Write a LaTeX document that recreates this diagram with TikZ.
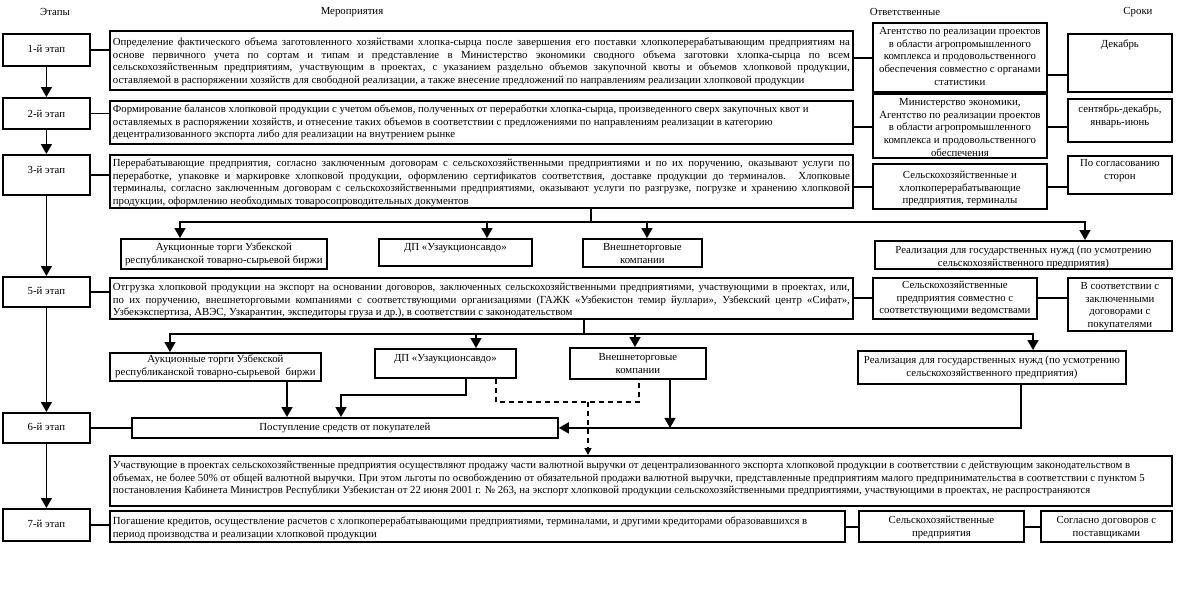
\documentclass[tikz,border=0pt]{standalone}
\usepackage{fontspec}
\setmainfont{Liberation Serif}
\usetikzlibrary{arrows.meta,calc,positioning}
\newcommand{\fs}{\fontsize{10.8}{12.6}\selectfont}
% cell: outer width, height, top gap, alignment, text
\newcommand{\bx}[5]{\parbox[c][#2][t]{\dimexpr#1-6pt\relax}{#4\tolerance=9999\hbadness=10000\vspace*{#3}\strut#5}}
\tikzset{pin/.style={line width=1.6pt, -{Triangle[length=10pt,width=11pt]}},
  wire/.style={line width=1.6pt},
  dline/.style={line width=1.5pt, dash pattern=on 5pt off 4pt},
  dpin/.style={dline, -{Triangle[length=7pt,width=7pt]}},
  blk/.style={draw, line width=1.8pt, anchor=north west, inner xsep=3pt, inner ysep=0pt, font=\fs},
  hdr/.style={font=\fs}}

\begin{document}
\begin{tikzpicture}[x=1pt, y=-1pt]
  \useasboundingbox (0,0) rectangle (1189,600);
  % headers
  \node[hdr] (hst) at (55,12) {Этапы};
  \node[hdr] (hact) at (352,12) {Мероприятия};
  \node[hdr] (hresp) at (905,12) {Ответственные};
  \node[hdr] (hterm) at (1138,12) {Сроки};
  % stages
  \node[blk] (st1) at (2,33)  {\bx{87pt}{32pt}{10pt}{\centering}{1-й этап}};
  \node[blk] (st2) at (2,97)  {\bx{87pt}{31pt}{11pt}{\centering}{2-й этап}};
  \node[blk] (st3) at (2,154) {\bx{87pt}{40pt}{10pt}{\centering}{3-й этап}};
  \node[blk] (st5) at (2,276) {\bx{87pt}{30pt}{9pt}{\centering}{5-й этап}};
  \node[blk] (st6) at (2,412) {\bx{87pt}{30pt}{9pt}{\centering}{6-й этап}};
  \node[blk] (st7) at (2,508) {\bx{87pt}{32pt}{10pt}{\centering}{7-й этап}};
  % row 1
  \node[blk] (t1) at (109,30) {\bx{743pt}{59pt}{6pt}{}{Определение фактического объема заготовленного хозяйствами хлопка-сырца после завершения его поставки хлопкоперерабатывающим предприятиям на\linebreak основе первичного учета по сортам и типам и представление в Министерство экономики сводного объема заготовки хлопка-сырца по всем\linebreak сельскохозяйственным предприятиям, участвующим в проектах, с указанием раздельно объемов закупочной квоты и объемов хлопковой продукции,\linebreak оставляемой в распоряжении хозяйств для свободной реализации, а также внесение предложений по направлениям реализации хлопковой продукции}};
  \node[blk] (r1) at (872,22) {\bx{174pt}{69pt}{3pt}{\centering}{Агентство по реализации проектов\\ в области агропромышленного\\ комплекса и продовольственного\\ обеспечения совместно с органами\\ статистики}};
  \node[blk] (d1) at (1067,33) {\bx{104pt}{58pt}{5pt}{\centering}{Декабрь}};
  % row 2
  \node[blk] (t2) at (109,100) {\bx{743pt}{43pt}{3pt}{\raggedright}{Формирование балансов хлопковой продукции  с учетом объемов, полученных от переработки хлопка-сырца, произведенного сверх закупочных квот и\\ оставляемых в распоряжении хозяйств, и отнесение таких объемов в соответствии с предложениями по направлениям реализации в категорию\\ децентрализованного экспорта либо для реализации на внутрением рынке}};
  \node[blk] (r2) at (872,93) {\bx{174pt}{64pt}{3pt}{\centering}{Министерство экономики,\\ Агентство по реализации проектов\\ в области агропромышленного\\ комплекса и продовольственного\\ обеспечения}};
  \node[blk] (d2) at (1067,98) {\bx{104pt}{43pt}{5pt}{\centering}{сентябрь-декабрь,\\ январь-июнь}};
  % row 3
  \node[blk] (t3) at (109,154) {\bx{743pt}{53pt}{3pt}{}{Перерабатывающие предприятия, согласно заключенным договорам с сельскохозяйственными предприятиями и по их поручению, оказывают услуги по\linebreak переработке, упаковке и маркировке хлопковой продукции, оформлению сертификатов соответствия, доставке продукции до терминалов. Хлопковые\linebreak терминалы, согласно заключенным договорам с сельскохозяйственными предприятиями, оказывают услуги по разгрузке, погрузке и хранению хлопковой\linebreak продукции, оформлению необходимых товаросопроводительных документов}};
  \node[blk] (r3) at (872,163) {\bx{174pt}{45pt}{6pt}{\centering}{Сельскохозяйственные и\\ хлопкоперерабатывающие\\ предприятия, терминалы}};
  \node[blk] (d3) at (1067,155) {\bx{104pt}{38pt}{2pt}{\centering}{По согласованию\\ сторон}};
  % channels after stage 3
  \node[blk] (a1) at (120,238) {\bx{206pt}{30pt}{3pt}{\centering}{Аукционные торги Узбекской\\ республиканской товарно-сырьевой биржи}};
  \node[blk] (b1) at (378,238) {\bx{153pt}{27pt}{3pt}{\centering}{ДП «Узаукционсавдо»}};
  \node[blk] (c1) at (582,238) {\bx{119pt}{28pt}{3pt}{\centering}{Внешнеторговые\\ компании}};
  \node[blk] (e1) at (874,240) {\bx{297pt}{28pt}{4pt}{\centering}{Реализация для государственных нужд (по усмотрению\\ сельскохозяйственного предприятия)}};
  % row 5
  \node[blk] (t5) at (109,277) {\bx{743pt}{41pt}{4pt}{}{Отгрузка хлопковой продукции на экспорт на основании договоров, заключенных сельскохозяйственными предприятиями, участвующими в проектах, или,\linebreak по их поручению, внешнеторговыми компаниями с соответствующими организациями (ГАЖК «Узбекистон темир йуллари», Узбекский центр «Сифат»,\linebreak Узбекэкспертиза, АВЭС, Узкарантин, экспедиторы груза и др.), в соответствии с законодательством}};
  \node[blk] (r5) at (872,277) {\bx{164pt}{41pt}{2pt}{\centering}{Сельскохозяйственные\\ предприятия совместно с\\ соответствующими ведомствами}};
  \node[blk] (d5) at (1067,277) {\bx{104pt}{53pt}{3pt}{\centering}{В соответствии с\\ заключенными\\ договорами с\\ покупателями}};
  % channels after stage 5
  \node[blk] (a2) at (109,352) {\bx{211pt}{28pt}{1pt}{\centering}{Аукционные торги Узбекской\\ республиканской товарно-сырьевой\ \ биржи}};
  \node[blk] (b2) at (374,348) {\bx{141pt}{29pt}{4pt}{\centering}{ДП «Узаукционсавдо»}};
  \node[blk] (c2) at (569,347) {\bx{136pt}{31pt}{4pt}{\centering}{Внешнеторговые\\ компании}};
  \node[blk] (e2) at (857,350) {\bx{268pt}{33pt}{4pt}{\centering}{Реализация для государственных нужд (по усмотрению\\ сельскохозяйственного предприятия)}};
  % row 6
  \node[blk] (f) at (131,417) {\bx{426pt}{20pt}{4pt}{\centering}{Поступление средств от покупателей}};
  \node[blk] (g) at (109,455) {\bx{1062pt}{50pt}{4pt}{\raggedright}{Участвующие в проектах сельскохозяйственные предприятия осуществляют продажу части валютной выручки от децентрализованного экспорта хлопковой продукции в соответствии с действующим законодательством в\\ объемах, не более 50\% от общей валютной выручки. При этом льготы по освобождению от обязательной продажи валютной выручки, представленные предприятиям малого предпринимательства в соответствии с пунктом 5\\ постановления Кабинета Министров Республики Узбекистан от 22 июня 2001 г. № 263, на экспорт хлопковой продукции сельскохозяйственными предприятиями, участвующими в проектах, не распространяются}};
  % row 7
  \node[blk] (t7) at (109,510) {\bx{735pt}{31pt}{5pt}{\raggedright}{Погашение кредитов, осуществление расчетов с хлопкоперерабатывающими предприятиями, терминалами, и другими кредиторами образовавшихся в\\ период производства и реализации хлопковой продукции}};
  \node[blk] (r7) at (858,510) {\bx{165pt}{31pt}{4pt}{\centering}{Сельскохозяйственные\\ предприятия}};
  \node[blk] (d7) at (1040,510) {\bx{131pt}{31pt}{4pt}{\centering}{Согласно договоров с\\ поставщиками}};
  % stage column
  \draw[pin] (st1) -- (st2);
  \draw[pin] (st2) -- (st3);
  \draw[pin] (st3) -- (st5);
  \draw[pin] (st5) -- (st6);
  \draw[pin] (st6) -- (st7);
  % stage to activity
  \foreach \s/\t in {st1/t1, st2/t2, st3/t3, st5/t5, st6/f, st7/t7}
    \draw[wire] (\s.east) -- (\s.east -| \t.west);
  % activity to responsible to terms
  \draw[wire] ($(t1.north east)+(0,28)$) -- ($(r1.north west)+(0,36)$);
  \draw[wire] ($(r1.north east)+(0,53)$) -- ($(d1.north west)+(0,42)$);
  \draw[wire] ($(t2.north east)+(0,27)$) -- ($(r2.north west)+(0,34)$);
  \draw[wire] ($(r2.north east)+(0,34)$) -- ($(d2.north west)+(0,29)$);
  \draw[wire] ($(t3.north east)+(0,33)$) -- ($(r3.north west)+(0,24)$);
  \draw[wire] ($(r3.north east)+(0,24)$) -- ($(d3.north west)+(0,32)$);
  \draw[wire] ($(t5.north east)+(0,21)$) -- ($(r5.north west)+(0,21)$);
  \draw[wire] ($(r5.north east)+(0,21)$) -- ($(d5.north west)+(0,21)$);
  \draw[wire] ($(t7.north east)+(0,17)$) -- ($(r7.north west)+(0,17)$);
  \draw[wire] ($(r7.north east)+(0,17)$) -- ($(d7.north west)+(0,17)$);
  % distribution after stage 3
  \coordinate (j1) at ($(t3.south west)+(482,13)$);
  \draw[wire] (j1 |- t3.south) -- (j1);
  \draw[pin] (j1) -| ($(a1.north west)+(60,0)$);
  \draw[pin] (j1) -| ($(b1.north west)+(109,0)$);
  \draw[pin] (j1) -| ($(c1.north west)+(65,0)$);
  \draw[pin] (j1) -| ($(e1.north west)+(211,0)$);
  % distribution after stage 5
  \coordinate (j2) at ($(t5.south west)+(475,14)$);
  \draw[wire] (j2 |- t5.south) -- (j2);
  \draw[pin] (j2) -| ($(a2.north west)+(61,0)$);
  \draw[pin] (j2) -| ($(b2.north west)+(102,0)$);
  \draw[pin] (j2) -| ($(c2.north west)+(66,0)$);
  \draw[pin] (j2) -| ($(e2.north west)+(176,0)$);
  % proceeds
  \coordinate (a2o) at ($(a2.south west)+(178,0)$);
  \coordinate (b2o) at ($(b2.south west)+(92,0)$);
  \coordinate (fb) at ($(f.north west)+(210,0)$);
  \coordinate (c2o) at ($(c2.south west)+(101,0)$);
  \coordinate (e2o) at ($(e2.south west)+(164,0)$);
  \draw[pin] (a2o) -- (a2o |- f.north);
  \draw[pin] (b2o) -- ++(0,16) -| (fb);
  \draw[pin] (c2o) -- (c2o |- f.east);
  \draw[pin] (e2o) |- (f.east);
  % currency sale
  \coordinate (b2d) at ($(b2.south west)+(122,0)$);
  \coordinate (c2d) at ($(c2.south west)+(70,0)$);
  \coordinate (dj) at ($(b2d)+(92,23)$);
  \draw[dline] (b2d) -- ++(0,23) -| (c2d);
  \draw[dpin] (dj) -- (dj |- g.north);
\end{tikzpicture}
\end{document}
